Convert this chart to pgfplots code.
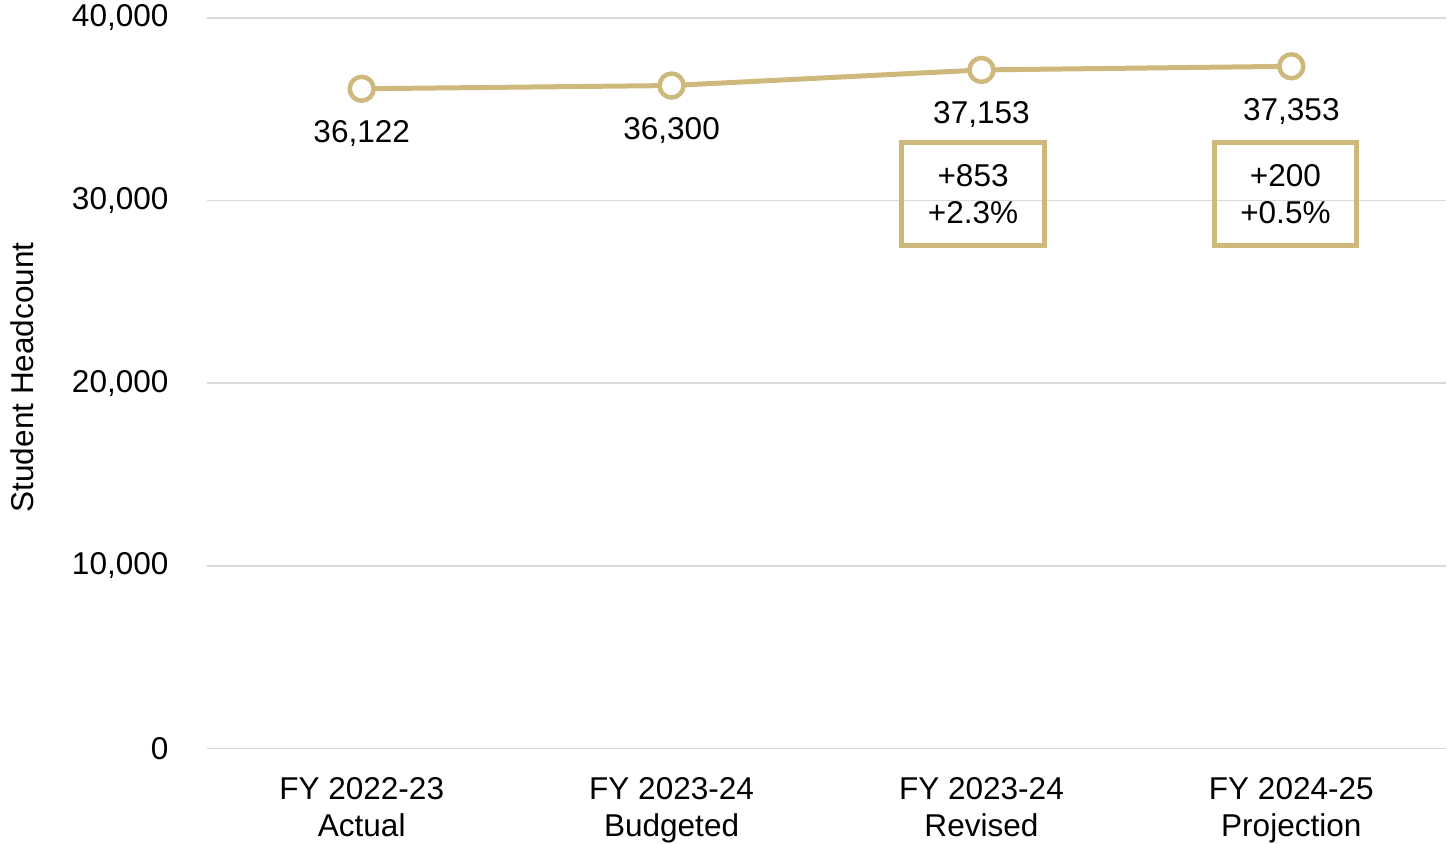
\documentclass[border=0pt]{standalone}
\usepackage{pgfplots}
\pgfplotsset{compat=1.18}
\usepackage{fontspec}
\setmainfont{Liberation Sans}
\definecolor{cugold}{HTML}{CFB87C}
\definecolor{gridgray}{HTML}{D9D9D9}
\begin{document}
\begin{tikzpicture}
\fontsize{15.8}{18.5}\selectfont
\begin{axis}[
    scale only axis,
    width=621pt, height=366pt,
    at={(0,0)}, anchor=south west,
    xmin=-0.5, xmax=3.5,
    ymin=0, ymax=40000,
    xtick={0,1,2,3},
    xticklabels={{FY 2022-23\\Actual},{FY 2023-24\\Budgeted},{FY 2023-24\\Revised},{FY 2024-25\\Projection}},
    ytick={0,10000,20000,30000,40000},
    axis line style={draw=none},
    major tick length=0pt,
    ymajorgrids,
    grid style={gridgray, line width=0.75pt},
    /pgf/number format/.cd, assume math mode=true, fixed, precision=0, 1000 sep={,},
    /pgfplots/.cd,
    scaled y ticks=false,
    ticklabel style={font=\fontsize{15.8}{18.5}\selectfont},
    yticklabel style={anchor=east, inner sep=0pt, xshift=-19pt},
    xticklabel style={anchor=north, align=center, inner sep=0pt, yshift=-14.5pt},
    ylabel={Student Headcount},
    every axis y label/.style={at={(axis description cs:-0.149,0.508)}, rotate=90, anchor=center, font=\fontsize{15.8}{18.5}\selectfont},
    clip=false,
]
\addplot[cugold, line width=2.5pt, mark=*, mark size=6pt,
    mark options={fill=white, draw=cugold, line width=2.25pt},
    nodes near coords,
    nodes near coords style={black, anchor=center, yshift=-22.5pt, font=\fontsize{15.8}{18.5}\selectfont,
      /pgf/number format/.cd, assume math mode=true, fixed, precision=0, 1000 sep={,}},
    point meta=y]
coordinates {(0,36122) (1,36300) (2,37153) (3,37353)};
\node[draw=cugold, line width=2.5pt, minimum width=71.5pt, minimum height=51.5pt, align=center, inner sep=0pt, font=\fontsize{15.8}{18.5}\selectfont]
  at (axis cs:1.973,30355) {+853\\+2.3\%};
\node[draw=cugold, line width=2.5pt, minimum width=71.5pt, minimum height=51.5pt, align=center, inner sep=0pt, font=\fontsize{15.8}{18.5}\selectfont]
  at (axis cs:2.981,30355) {+200\\+0.5\%};
\end{axis}
\useasboundingbox (-102.5pt,-46.5pt) rectangle (621pt,375pt);
\end{tikzpicture}
\end{document}
